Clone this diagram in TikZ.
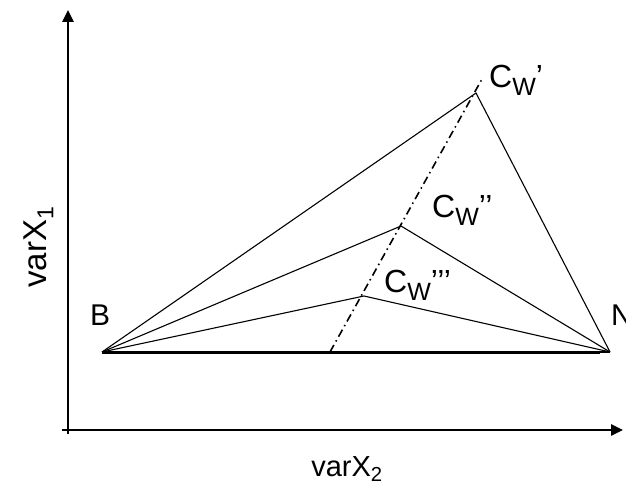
\documentclass[tikz,border=0pt]{standalone}
\usepackage{fontspec}
\setmainfont{Liberation Sans}
\usetikzlibrary{arrows.meta}
\newcommand{\cwlab}[1]{C\raisebox{-8pt}{\fontsize{25}{25}\selectfont W}#1}
\begin{document}
\begin{tikzpicture}[x=1pt,y=-1pt,
  thinline/.style={line width=1.1pt},
  axisline/.style={line width=2.6pt,-{Triangle[length=12pt,width=11pt]}},
  lbl/.style={inner sep=0pt,font=\fontsize{32}{34}\selectfont},
  plbl/.style={inner sep=0pt,font=\fontsize{30}{32}\selectfont},
  axlbl/.style={inner sep=0pt,font=\fontsize{29}{31}\selectfont},
  aylbl/.style={inner sep=0pt,font=\fontsize{33}{35}\selectfont}]
\useasboundingbox (0,0) rectangle (626,495);
% axes
\coordinate (yo) at (68,434);
\coordinate (yt) at (68,10);
\coordinate (xo) at (62,430);
\coordinate (xt) at (623,430);
\draw[axisline] (yo) -- (yt);
\draw[axisline] (xo) -- (xt);
% points
\coordinate (B) at (102,352);
\coordinate (N) at (610,352);
\coordinate (Be) at (600,352);
\coordinate (C1) at (476,93);
\coordinate (C2) at (401,226);
\coordinate (C3) at (364,296);
\coordinate (D0) at (330,352);
\coordinate (D1) at (482,79);
% base
\draw[line width=3pt] (B) -- (Be);
\draw[thinline] (B) -- (N);
% triangles
\draw[thinline] (B) -- (C1) -- (N);
\draw[thinline] (B) -- (C2) -- (N);
\draw[thinline] (B) -- (C3) -- (N);
% dash-dot
\draw[line width=1.6pt,dash pattern=on 8pt off 4pt on 1.5pt off 4pt] (D0) -- (D1);
% labels
\node[lbl,anchor=base west] (l1) at (489,87) {\cwlab{’}};
\node[lbl,anchor=base west] (l2) at (432,217) {\cwlab{’’}};
\node[lbl,anchor=base west] (l3) at (384,292) {\cwlab{’’’}};
\node[plbl,anchor=base west] (lB) at (90,325) {B};
\node[plbl,anchor=base west] (lN) at (611,325) {N};
\node[axlbl,anchor=base] (lx) at (347,476) {varX\textsubscript{2}};
\node[aylbl,rotate=90,anchor=base] (ly) at (46,247) {varX\textsubscript{1}};
\end{tikzpicture}
\end{document}
